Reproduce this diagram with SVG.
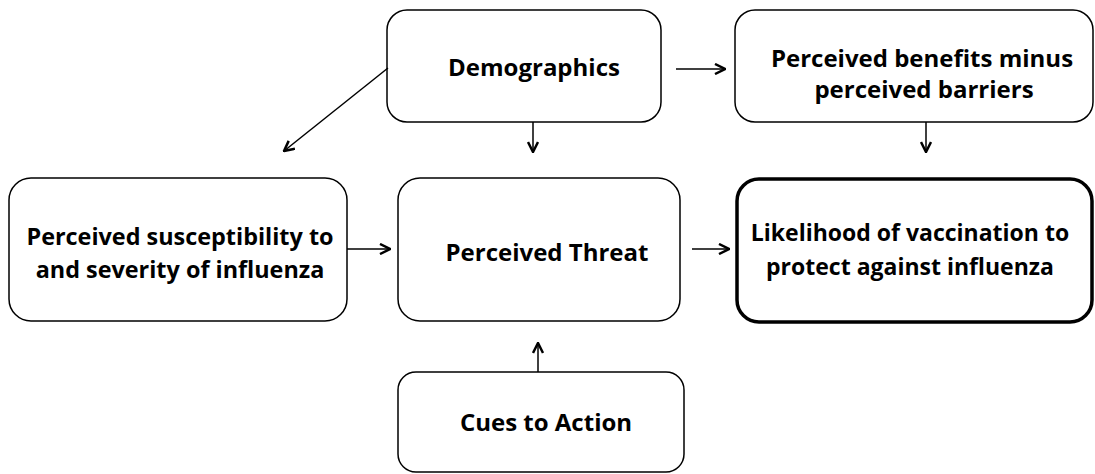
<svg xmlns="http://www.w3.org/2000/svg" width="1095" height="474" viewBox="0 0 1095 474">
<style>
.box{fill:#fff;stroke:#000;stroke-width:1.5}
.thick{stroke-width:3.5}
.t{font-family:"Open Sans",Lato,"Liberation Sans",sans-serif;font-weight:bold;font-size:24px;text-anchor:middle;fill:#000}
.c{stroke:#000;stroke-width:1.5;fill:none;marker-end:url(#ah)}
</style>
<defs>
<marker id="ah" viewBox="0 0 12 12" refX="11" refY="6" markerWidth="12" markerHeight="12" markerUnits="userSpaceOnUse" orient="auto">
<path d="M1,1 L11,6 L1,11" fill="none" stroke="#000" stroke-width="2.5"/>
</marker>
</defs>
<rect width="1095" height="474" fill="#fff"/>
<g id="demographics"><rect class="box" x="387" y="10" width="274" height="112" rx="20"/><text class="t" x="534" y="76">Demographics</text></g>
<g id="benefits"><rect class="box" x="735" y="10" width="358" height="112" rx="20"/><text class="t" x="922" y="67">Perceived benefits minus</text><text class="t" x="924" y="98">perceived barriers</text></g>
<g id="susceptibility"><rect class="box" x="9" y="178" width="338" height="143" rx="22"/><text class="t" x="180" y="245" style="font-size:23.4px">Perceived susceptibility to</text><text class="t" x="180" y="278" style="font-size:23.4px">and severity of influenza</text></g>
<g id="threat"><rect class="box" x="398" y="178" width="282" height="143" rx="22"/><text class="t" x="547" y="261">Perceived Threat</text></g>
<g id="likelihood"><rect class="box thick" x="737" y="179" width="355" height="143" rx="22"/><text class="t" x="910" y="241" style="font-size:23px">Likelihood of vaccination to</text><text class="t" x="910" y="275" style="font-size:23px">protect against influenza</text></g>
<g id="cues"><rect class="box" x="398" y="372" width="286" height="100" rx="18"/><text class="t" x="546" y="431">Cues to Action</text></g>
<g id="connectors">
<line class="c" x1="388" y1="68" x2="284" y2="151"/>
<line class="c" x1="533" y1="122" x2="533" y2="152"/>
<line class="c" x1="676" y1="69" x2="725" y2="69"/>
<line class="c" x1="926" y1="122" x2="926" y2="152"/>
<line class="c" x1="347" y1="249" x2="390" y2="249"/>
<line class="c" x1="692" y1="249" x2="729" y2="249"/>
<line class="c" x1="538" y1="372" x2="538" y2="343"/>
</g>
</svg>
